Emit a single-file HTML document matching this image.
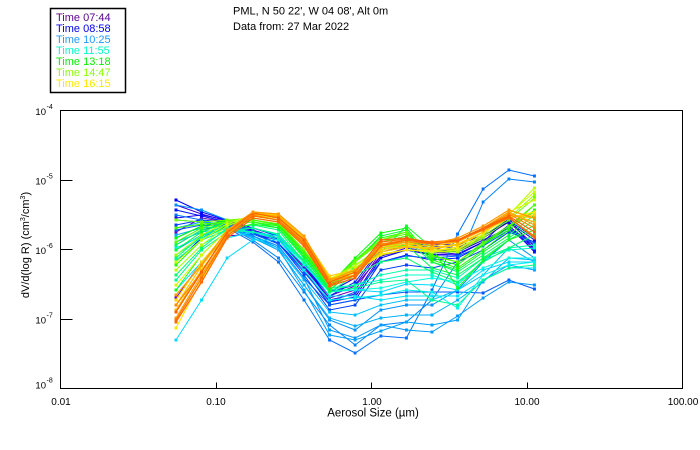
<!DOCTYPE html>
<html><head><meta charset="utf-8"><style>
html,body{margin:0;padding:0;background:#fff}
svg{display:block}
text{font-family:"Liberation Sans",sans-serif}
</style></head><body>
<svg width="700" height="450" viewBox="0 0 700 450" xmlns="http://www.w3.org/2000/svg">
<rect width="700" height="450" fill="#fff"/>
<defs>
<marker id="m1" markerWidth="3" markerHeight="3" refX="1.5" refY="1.5" markerUnits="userSpaceOnUse"><rect width="3" height="3" fill="#7000b8"/></marker>
<marker id="m2" markerWidth="3" markerHeight="3" refX="1.5" refY="1.5" markerUnits="userSpaceOnUse"><rect width="3" height="3" fill="#5000d0"/></marker>
<marker id="m3" markerWidth="3" markerHeight="3" refX="1.5" refY="1.5" markerUnits="userSpaceOnUse"><rect width="3" height="3" fill="#2000f0"/></marker>
<marker id="m4" markerWidth="3" markerHeight="3" refX="1.5" refY="1.5" markerUnits="userSpaceOnUse"><rect width="3" height="3" fill="#0000ff"/></marker>
<marker id="m5" markerWidth="3" markerHeight="3" refX="1.5" refY="1.5" markerUnits="userSpaceOnUse"><rect width="3" height="3" fill="#0010ff"/></marker>
<marker id="m6" markerWidth="3" markerHeight="3" refX="1.5" refY="1.5" markerUnits="userSpaceOnUse"><rect width="3" height="3" fill="#0028ff"/></marker>
<marker id="m7" markerWidth="3" markerHeight="3" refX="1.5" refY="1.5" markerUnits="userSpaceOnUse"><rect width="3" height="3" fill="#0040ff"/></marker>
<marker id="m8" markerWidth="3" markerHeight="3" refX="1.5" refY="1.5" markerUnits="userSpaceOnUse"><rect width="3" height="3" fill="#0000e0"/></marker>
<marker id="m9" markerWidth="3" markerHeight="3" refX="1.5" refY="1.5" markerUnits="userSpaceOnUse"><rect width="3" height="3" fill="#0058ff"/></marker>
<marker id="m10" markerWidth="3" markerHeight="3" refX="1.5" refY="1.5" markerUnits="userSpaceOnUse"><rect width="3" height="3" fill="#0070ff"/></marker>
<marker id="m11" markerWidth="3" markerHeight="3" refX="1.5" refY="1.5" markerUnits="userSpaceOnUse"><rect width="3" height="3" fill="#0080ff"/></marker>
<marker id="m12" markerWidth="3" markerHeight="3" refX="1.5" refY="1.5" markerUnits="userSpaceOnUse"><rect width="3" height="3" fill="#0090ff"/></marker>
<marker id="m13" markerWidth="3" markerHeight="3" refX="1.5" refY="1.5" markerUnits="userSpaceOnUse"><rect width="3" height="3" fill="#00a0ff"/></marker>
<marker id="m14" markerWidth="3" markerHeight="3" refX="1.5" refY="1.5" markerUnits="userSpaceOnUse"><rect width="3" height="3" fill="#00b0ff"/></marker>
<marker id="m15" markerWidth="3" markerHeight="3" refX="1.5" refY="1.5" markerUnits="userSpaceOnUse"><rect width="3" height="3" fill="#00c0ff"/></marker>
<marker id="m16" markerWidth="3" markerHeight="3" refX="1.5" refY="1.5" markerUnits="userSpaceOnUse"><rect width="3" height="3" fill="#0098ff"/></marker>
<marker id="m17" markerWidth="3" markerHeight="3" refX="1.5" refY="1.5" markerUnits="userSpaceOnUse"><rect width="3" height="3" fill="#00d8ff"/></marker>
<marker id="m18" markerWidth="3" markerHeight="3" refX="1.5" refY="1.5" markerUnits="userSpaceOnUse"><rect width="3" height="3" fill="#00f0f0"/></marker>
<marker id="m19" markerWidth="3" markerHeight="3" refX="1.5" refY="1.5" markerUnits="userSpaceOnUse"><rect width="3" height="3" fill="#00ffe0"/></marker>
<marker id="m20" markerWidth="3" markerHeight="3" refX="1.5" refY="1.5" markerUnits="userSpaceOnUse"><rect width="3" height="3" fill="#00ffc8"/></marker>
<marker id="m21" markerWidth="3" markerHeight="3" refX="1.5" refY="1.5" markerUnits="userSpaceOnUse"><rect width="3" height="3" fill="#00ffa8"/></marker>
<marker id="m22" markerWidth="3" markerHeight="3" refX="1.5" refY="1.5" markerUnits="userSpaceOnUse"><rect width="3" height="3" fill="#00ff90"/></marker>
<marker id="m23" markerWidth="3" markerHeight="3" refX="1.5" refY="1.5" markerUnits="userSpaceOnUse"><rect width="3" height="3" fill="#00ff70"/></marker>
<marker id="m24" markerWidth="3" markerHeight="3" refX="1.5" refY="1.5" markerUnits="userSpaceOnUse"><rect width="3" height="3" fill="#00ff50"/></marker>
<marker id="m25" markerWidth="3" markerHeight="3" refX="1.5" refY="1.5" markerUnits="userSpaceOnUse"><rect width="3" height="3" fill="#00ff30"/></marker>
<marker id="m26" markerWidth="3" markerHeight="3" refX="1.5" refY="1.5" markerUnits="userSpaceOnUse"><rect width="3" height="3" fill="#00ff00"/></marker>
<marker id="m27" markerWidth="3" markerHeight="3" refX="1.5" refY="1.5" markerUnits="userSpaceOnUse"><rect width="3" height="3" fill="#20ff00"/></marker>
<marker id="m28" markerWidth="3" markerHeight="3" refX="1.5" refY="1.5" markerUnits="userSpaceOnUse"><rect width="3" height="3" fill="#40ff00"/></marker>
<marker id="m29" markerWidth="3" markerHeight="3" refX="1.5" refY="1.5" markerUnits="userSpaceOnUse"><rect width="3" height="3" fill="#10ff20"/></marker>
<marker id="m30" markerWidth="3" markerHeight="3" refX="1.5" refY="1.5" markerUnits="userSpaceOnUse"><rect width="3" height="3" fill="#70ff00"/></marker>
<marker id="m31" markerWidth="3" markerHeight="3" refX="1.5" refY="1.5" markerUnits="userSpaceOnUse"><rect width="3" height="3" fill="#98ff00"/></marker>
<marker id="m32" markerWidth="3" markerHeight="3" refX="1.5" refY="1.5" markerUnits="userSpaceOnUse"><rect width="3" height="3" fill="#b8ff00"/></marker>
<marker id="m33" markerWidth="3" markerHeight="3" refX="1.5" refY="1.5" markerUnits="userSpaceOnUse"><rect width="3" height="3" fill="#d8f800"/></marker>
<marker id="m34" markerWidth="3" markerHeight="3" refX="1.5" refY="1.5" markerUnits="userSpaceOnUse"><rect width="3" height="3" fill="#ffe800"/></marker>
<marker id="m35" markerWidth="3" markerHeight="3" refX="1.5" refY="1.5" markerUnits="userSpaceOnUse"><rect width="3" height="3" fill="#ffd000"/></marker>
<marker id="m36" markerWidth="3" markerHeight="3" refX="1.5" refY="1.5" markerUnits="userSpaceOnUse"><rect width="3" height="3" fill="#ffb800"/></marker>
<marker id="m37" markerWidth="3" markerHeight="3" refX="1.5" refY="1.5" markerUnits="userSpaceOnUse"><rect width="3" height="3" fill="#ffa000"/></marker>
<marker id="m38" markerWidth="3" markerHeight="3" refX="1.5" refY="1.5" markerUnits="userSpaceOnUse"><rect width="3" height="3" fill="#ff8800"/></marker>
<marker id="m39" markerWidth="3" markerHeight="3" refX="1.5" refY="1.5" markerUnits="userSpaceOnUse"><rect width="3" height="3" fill="#ff7000"/></marker>
<marker id="m40" markerWidth="3" markerHeight="3" refX="1.5" refY="1.5" markerUnits="userSpaceOnUse"><rect width="3" height="3" fill="#ff6000"/></marker>
<marker id="m41" markerWidth="3" markerHeight="3" refX="1.5" refY="1.5" markerUnits="userSpaceOnUse"><rect width="3" height="3" fill="#ff9800"/></marker>
<marker id="m42" markerWidth="3" markerHeight="3" refX="1.5" refY="1.5" markerUnits="userSpaceOnUse"><rect width="3" height="3" fill="#ff6800"/></marker>
<marker id="ma" markerWidth="3" markerHeight="3" refX="1.5" refY="1.5" markerUnits="userSpaceOnUse"><rect width="3" height="3" fill="#3a00e0"/></marker>
<marker id="mb" markerWidth="3" markerHeight="3" refX="1.5" refY="1.5" markerUnits="userSpaceOnUse"><rect width="3" height="3" fill="#0060ff"/></marker>
<marker id="mc" markerWidth="3" markerHeight="3" refX="1.5" refY="1.5" markerUnits="userSpaceOnUse"><rect width="3" height="3" fill="#00e0ff"/></marker>
<marker id="md" markerWidth="3" markerHeight="3" refX="1.5" refY="1.5" markerUnits="userSpaceOnUse"><rect width="3" height="3" fill="#00ff60"/></marker>
<marker id="me" markerWidth="3" markerHeight="3" refX="1.5" refY="1.5" markerUnits="userSpaceOnUse"><rect width="3" height="3" fill="#50ff00"/></marker>
<marker id="mf" markerWidth="3" markerHeight="3" refX="1.5" refY="1.5" markerUnits="userSpaceOnUse"><rect width="3" height="3" fill="#c8ff00"/></marker>
<marker id="mg" markerWidth="3" markerHeight="3" refX="1.5" refY="1.5" markerUnits="userSpaceOnUse"><rect width="3" height="3" fill="#ffc000"/></marker>
</defs>

<!-- Legend -->
<rect x="50.5" y="8.5" width="75" height="84" fill="none" stroke="#000" stroke-width="1.5"/>
<g font-size="11">
<text x="56" y="21" fill="#5a0090">Time 07:44</text>
<text x="56" y="32" fill="#0000ee">Time 08:58</text>
<text x="56" y="43" fill="#1e9bff">Time 10:25</text>
<text x="56" y="54" fill="#00ffc8">Time 11:55</text>
<text x="56" y="65" fill="#00f000">Time 13:18</text>
<text x="56" y="76" fill="#8cff00">Time 14:47</text>
<text x="56" y="87" fill="#ffe800">Time 16:15</text>
</g>

<!-- Title -->
<g font-size="11" fill="#000">
<text x="233" y="14.5">PML, N 50 22', W 04 08', Alt 0m</text>
<text x="233" y="30">Data from: 27 Mar 2022</text>
</g>

<!-- Data -->
<g fill="none" stroke-width="1">
<polyline stroke="#7000b8" marker-start="url(#m1)" marker-mid="url(#m1)" marker-end="url(#m1)" points="176,232 201.6,218 227.2,222 252.8,232 278.4,240 304,268 329.6,298 355.2,290 380.8,252 406.4,246 432,250 457.6,250 483.2,238 508.8,222 534.4,245"/>
<polyline stroke="#5000d0" marker-start="url(#m2)" marker-mid="url(#m2)" marker-end="url(#m2)" points="176,298 201.6,262 227.2,236 252.8,234 278.4,240 304,266 329.6,296 355.2,286 380.8,256 406.4,250 432,254 457.6,255 483.2,242 508.8,228 534.4,250"/>
<polyline stroke="#3a00e0" marker-start="url(#ma)" marker-mid="url(#ma)" marker-end="url(#ma)" points="176,205 201.6,214 227.2,221 252.8,231 278.4,239 304,266 329.6,300 355.2,294 380.8,256 406.4,248 432,252 457.6,254 483.2,242 508.8,226 534.4,246"/>
<polyline stroke="#2000f0" marker-start="url(#m3)" marker-mid="url(#m3)" marker-end="url(#m3)" points="176,218 201.6,215 227.2,220 252.8,230 278.4,238 304,262 329.6,292 355.2,285 380.8,250 406.4,244 432,248 457.6,252 483.2,240 508.8,228 534.4,248"/>
<polyline stroke="#0000ff" marker-start="url(#m4)" marker-mid="url(#m4)" marker-end="url(#m4)" points="176,200 201.6,212 227.2,220 252.8,228 278.4,236 304,262 329.6,302 355.2,297 380.8,258 406.4,250 432,255 457.6,255 483.2,242 508.8,218 534.4,250"/>
<polyline stroke="#0010ff" marker-start="url(#m5)" marker-mid="url(#m5)" marker-end="url(#m5)" points="176,210 201.6,216 227.2,222 252.8,233 278.4,243 304,270 329.6,305 355.2,300 380.8,262 406.4,255 432,260 457.6,258 483.2,245 508.8,225 534.4,252"/>
<polyline stroke="#0028ff" marker-start="url(#m6)" marker-mid="url(#m6)" marker-end="url(#m6)" points="176,245 201.6,230 227.2,224 252.8,232 278.4,240 304,265 329.6,296 355.2,282 380.8,248 406.4,242 432,246 457.6,248 483.2,236 508.8,220 534.4,238"/>
<polyline stroke="#0040ff" marker-start="url(#m7)" marker-mid="url(#m7)" marker-end="url(#m7)" points="176,225 201.6,220 227.2,222 252.8,233 278.4,243 304,275 329.6,310 355.2,305 380.8,270 406.4,265 432,268 457.6,262 483.2,250 508.8,232 534.4,242"/>
<polyline stroke="#0000e0" marker-start="url(#m8)" marker-mid="url(#m8)" marker-end="url(#m8)" points="176,262 201.6,238 227.2,226 252.8,228 278.4,236 304,262 329.6,292 355.2,278 380.8,245 406.4,240 432,244 457.6,245 483.2,235 508.8,222 534.4,240"/>
<polyline stroke="#0060ff" marker-start="url(#mb)" marker-mid="url(#mb)" marker-end="url(#mb)" points="176,238 201.6,226 227.2,224 252.8,234 278.4,244 304,272 329.6,302 355.2,292 380.8,262 406.4,256 432,258 457.6,256 483.2,246 508.8,230 534.4,244"/>
<polyline stroke="#0058ff" marker-start="url(#m9)" marker-mid="url(#m9)" marker-end="url(#m9)" points="176,230 201.6,225 227.2,225 252.8,236 278.4,246 304,278 329.6,305 355.2,300 380.8,295 406.4,292 432,292 457.6,292 483.2,293 508.8,280 534.4,289"/>
<polyline stroke="#0070ff" marker-start="url(#m10)" marker-mid="url(#m10)" marker-end="url(#m10)" points="176,215 201.6,220 227.2,228 252.8,242 278.4,262 304,300 329.6,340 355.2,353 380.8,336 406.4,338 432,290 457.6,234 483.2,189 508.8,170 534.4,176"/>
<polyline stroke="#0080ff" marker-start="url(#m11)" marker-mid="url(#m11)" marker-end="url(#m11)" points="176,220 201.6,222 227.2,226 252.8,240 278.4,258 304,292 329.6,325 355.2,345 380.8,325 406.4,322 432,300 457.6,262 483.2,202 508.8,179 534.4,182"/>
<polyline stroke="#0090ff" marker-start="url(#m12)" marker-mid="url(#m12)" marker-end="url(#m12)" points="176,205 201.6,210 227.2,220 252.8,238 278.4,250 304,285 329.6,320 355.2,330 380.8,310 406.4,305 432,305 457.6,290 483.2,262 508.8,240 534.4,258"/>
<polyline stroke="#00a0ff" marker-start="url(#m13)" marker-mid="url(#m13)" marker-end="url(#m13)" points="176,228 201.6,222 227.2,224 252.8,236 278.4,248 304,290 329.6,335 355.2,340 380.8,331 406.4,322 432,325 457.6,320 483.2,280 508.8,265 534.4,270"/>
<polyline stroke="#00b0ff" marker-start="url(#m14)" marker-mid="url(#m14)" marker-end="url(#m14)" points="176,235 201.6,228 227.2,226 252.8,238 278.4,250 304,285 329.6,318 355.2,326 380.8,318 406.4,315 432,315 457.6,300 483.2,282 508.8,258 534.4,260"/>
<polyline stroke="#00c0ff" marker-start="url(#m15)" marker-mid="url(#m15)" marker-end="url(#m15)" points="176,242 201.6,232 227.2,228 252.8,238 278.4,248 304,280 329.6,312 355.2,315 380.8,305 406.4,300 432,300 457.6,290 483.2,275 508.8,248 534.4,262"/>
<polyline stroke="#0098ff" marker-start="url(#m16)" marker-mid="url(#m16)" marker-end="url(#m16)" points="176,250 201.6,235 227.2,228 252.8,236 278.4,246 304,278 329.6,330 355.2,338 380.8,325 406.4,330 432,332 457.6,316 483.2,298 508.8,282 534.4,285"/>
<polyline stroke="#00d8ff" marker-start="url(#m17)" marker-mid="url(#m17)" marker-end="url(#m17)" points="176,340 201.6,300 227.2,258 252.8,240 278.4,240 304,265 329.6,290 355.2,290 380.8,292 406.4,284 432,285 457.6,290 483.2,270 508.8,262 534.4,262"/>
<polyline stroke="#00e0ff" marker-start="url(#mc)" marker-mid="url(#mc)" marker-end="url(#mc)" points="176,290 201.6,262 227.2,238 252.8,232 278.4,236 304,262 329.6,296 355.2,296 380.8,300 406.4,296 432,296 457.6,296 483.2,280 508.8,268 534.4,268"/>
<polyline stroke="#00f0f0" marker-start="url(#m18)" marker-mid="url(#m18)" marker-end="url(#m18)" points="176,248 201.6,236 227.2,228 252.8,232 278.4,240 304,270 329.6,300 355.2,298 380.8,295 406.4,290 432,292 457.6,308 483.2,275 508.8,265 534.4,262"/>
<polyline stroke="#00ffe0" marker-start="url(#m19)" marker-mid="url(#m19)" marker-end="url(#m19)" points="176,270 201.6,245 227.2,230 252.8,232 278.4,238 304,265 329.6,292 355.2,290 380.8,288 406.4,282 432,278 457.6,282 483.2,268 508.8,258 534.4,258"/>
<polyline stroke="#00ffc8" marker-start="url(#m20)" marker-mid="url(#m20)" marker-end="url(#m20)" points="176,255 201.6,238 227.2,228 252.8,228 278.4,235 304,260 329.6,288 355.2,285 380.8,280 406.4,275 432,275 457.6,285 483.2,260 508.8,250 534.4,248"/>
<polyline stroke="#00ffa8" marker-start="url(#m21)" marker-mid="url(#m21)" marker-end="url(#m21)" points="176,260 201.6,240 227.2,230 252.8,232 278.4,238 304,262 329.6,290 355.2,285 380.8,275 406.4,270 432,270 457.6,278 483.2,258 508.8,248 534.4,245"/>
<polyline stroke="#00ff90" marker-start="url(#m22)" marker-mid="url(#m22)" marker-end="url(#m22)" points="176,280 201.6,250 227.2,232 252.8,228 278.4,234 304,262 329.6,292 355.2,288 380.8,282 406.4,280 432,300 457.6,305 483.2,280 508.8,268 534.4,265"/>
<polyline stroke="#00ff70" marker-start="url(#m23)" marker-mid="url(#m23)" marker-end="url(#m23)" points="176,275 201.6,248 227.2,228 252.8,225 278.4,230 304,262 329.6,292 355.2,275 380.8,262 406.4,258 432,272 457.6,282 483.2,262 508.8,248 534.4,235"/>
<polyline stroke="#00ff60" marker-start="url(#md)" marker-mid="url(#md)" marker-end="url(#md)" points="176,258 201.6,236 227.2,224 252.8,222 278.4,228 304,256 329.6,288 355.2,266 380.8,246 406.4,240 432,262 457.6,272 483.2,255 508.8,238 534.4,220"/>
<polyline stroke="#00ff50" marker-start="url(#m24)" marker-mid="url(#m24)" marker-end="url(#m24)" points="176,245 201.6,230 227.2,222 252.8,222 278.4,228 304,258 329.6,290 355.2,268 380.8,250 406.4,245 432,268 457.6,275 483.2,258 508.8,240 534.4,225"/>
<polyline stroke="#00ff30" marker-start="url(#m25)" marker-mid="url(#m25)" marker-end="url(#m25)" points="176,250 201.6,232 227.2,222 252.8,222 278.4,226 304,255 329.6,288 355.2,262 380.8,236 406.4,230 432,262 457.6,270 483.2,252 508.8,235 534.4,215"/>
<polyline stroke="#00ff00" marker-start="url(#m26)" marker-mid="url(#m26)" marker-end="url(#m26)" points="176,238 201.6,226 227.2,220 252.8,220 278.4,225 304,252 329.6,285 355.2,258 380.8,233 406.4,228 432,258 457.6,265 483.2,245 508.8,228 534.4,205"/>
<polyline stroke="#20ff00" marker-start="url(#m27)" marker-mid="url(#m27)" marker-end="url(#m27)" points="176,265 201.6,240 227.2,225 252.8,220 278.4,224 304,250 329.6,285 355.2,260 380.8,238 406.4,232 432,260 457.6,268 483.2,250 508.8,230 534.4,210"/>
<polyline stroke="#40ff00" marker-start="url(#m28)" marker-mid="url(#m28)" marker-end="url(#m28)" points="176,228 201.6,224 227.2,222 252.8,222 278.4,226 304,254 329.6,286 355.2,262 380.8,242 406.4,236 432,255 457.6,262 483.2,242 508.8,226 534.4,212"/>
<polyline stroke="#50ff00" marker-start="url(#me)" marker-mid="url(#me)" marker-end="url(#me)" points="176,242 201.6,228 227.2,221 252.8,220 278.4,224 304,250 329.6,284 355.2,260 380.8,240 406.4,234 432,256 457.6,262 483.2,244 508.8,226 534.4,205"/>
<polyline stroke="#10ff20" marker-start="url(#m29)" marker-mid="url(#m29)" marker-end="url(#m29)" points="176,290 201.6,255 227.2,230 252.8,224 278.4,228 304,258 329.6,290 355.2,270 380.8,252 406.4,226 432,248 457.6,288 483.2,260 508.8,240 534.4,230"/>
<polyline stroke="#70ff00" marker-start="url(#m30)" marker-mid="url(#m30)" marker-end="url(#m30)" points="176,220 201.6,222 227.2,220 252.8,218 278.4,222 304,250 329.6,282 355.2,262 380.8,240 406.4,232 432,250 457.6,252 483.2,238 508.8,220 534.4,198"/>
<polyline stroke="#98ff00" marker-start="url(#m31)" marker-mid="url(#m31)" marker-end="url(#m31)" points="176,255 201.6,235 227.2,222 252.8,216 278.4,220 304,246 329.6,280 355.2,265 380.8,248 406.4,240 432,252 457.6,252 483.2,236 508.8,218 534.4,195"/>
<polyline stroke="#b8ff00" marker-start="url(#m32)" marker-mid="url(#m32)" marker-end="url(#m32)" points="176,270 201.6,245 227.2,226 252.8,216 278.4,220 304,244 329.6,280 355.2,268 380.8,250 406.4,244 432,252 457.6,250 483.2,234 508.8,215 534.4,188"/>
<polyline stroke="#c8ff00" marker-start="url(#mf)" marker-mid="url(#mf)" marker-end="url(#mf)" points="176,262 201.6,240 227.2,224 252.8,215 278.4,218 304,242 329.6,279 355.2,266 380.8,248 406.4,242 432,250 457.6,249 483.2,234 508.8,214 534.4,192"/>
<polyline stroke="#d8f800" marker-start="url(#m33)" marker-mid="url(#m33)" marker-end="url(#m33)" points="176,285 201.6,255 227.2,230 252.8,215 278.4,218 304,240 329.6,278 355.2,272 380.8,255 406.4,250 432,252 457.6,250 483.2,235 508.8,212 534.4,200"/>
</g>
<g fill="none" stroke-width="1.2">
<polyline stroke="#ffe800" marker-start="url(#m34)" marker-mid="url(#m34)" marker-end="url(#m34)" points="176,328 201.6,280 227.2,236 252.8,212 278.4,214 304,238 329.6,278 355.2,272 380.8,254 406.4,250 432,251 457.6,247 483.2,232 508.8,218 534.4,212"/>
<polyline stroke="#ffd000" marker-start="url(#m35)" marker-mid="url(#m35)" marker-end="url(#m35)" points="176,300 201.6,262 227.2,232 252.8,213 278.4,215 304,238 329.6,276 355.2,270 380.8,250 406.4,246 432,248 457.6,244 483.2,232 508.8,216 534.4,215"/>
<polyline stroke="#ffc000" marker-start="url(#mg)" marker-mid="url(#mg)" marker-end="url(#mg)" points="176,305 201.6,266 227.2,233 252.8,214 278.4,216 304,238 329.6,279 355.2,273 380.8,252 406.4,247 432,249 457.6,245 483.2,232 508.8,215 534.4,218"/>
<polyline stroke="#ffb800" marker-start="url(#m36)" marker-mid="url(#m36)" marker-end="url(#m36)" points="176,310 201.6,270 227.2,235 252.8,214 278.4,216 304,240 329.6,280 355.2,275 380.8,248 406.4,244 432,246 457.6,242 483.2,230 508.8,214 534.4,222"/>
<polyline stroke="#ffa000" marker-start="url(#m37)" marker-mid="url(#m37)" marker-end="url(#m37)" points="176,318 201.6,275 227.2,236 252.8,213 278.4,217 304,240 329.6,282 355.2,275 380.8,246 406.4,242 432,244 457.6,240 483.2,228 508.8,212 534.4,225"/>
<polyline stroke="#ff8800" marker-start="url(#m38)" marker-mid="url(#m38)" marker-end="url(#m38)" points="176,305 201.6,272 227.2,233 252.8,215 278.4,220 304,242 329.6,284 355.2,276 380.8,244 406.4,240 432,243 457.6,240 483.2,228 508.8,214 534.4,228"/>
<polyline stroke="#ff7000" marker-start="url(#m39)" marker-mid="url(#m39)" marker-end="url(#m39)" points="176,320 201.6,278 227.2,236 252.8,216 278.4,220 304,244 329.6,285 355.2,275 380.8,242 406.4,239 432,242 457.6,240 483.2,230 508.8,218 534.4,236"/>
<polyline stroke="#ff6000" marker-start="url(#m40)" marker-mid="url(#m40)" marker-end="url(#m40)" points="176,312 201.6,272 227.2,232 252.8,213 278.4,218 304,240 329.6,282 355.2,272 380.8,240 406.4,238 432,243 457.6,240 483.2,228 508.8,216 534.4,232"/>
<polyline stroke="#ff9800" marker-start="url(#m41)" marker-mid="url(#m41)" marker-end="url(#m41)" points="176,295 201.6,265 227.2,230 252.8,212 278.4,214 304,236 329.6,280 355.2,270 380.8,245 406.4,242 432,244 457.6,238 483.2,226 508.8,210 534.4,218"/>
<polyline stroke="#ff6800" marker-start="url(#m42)" marker-mid="url(#m42)" marker-end="url(#m42)" points="176,322 201.6,282 227.2,238 252.8,218 278.4,222 304,246 329.6,286 355.2,278 380.8,246 406.4,240 432,244 457.6,241 483.2,229 508.8,217 534.4,238"/>
</g>

<!-- Axes frame -->
<rect x="60.5" y="110.5" width="622" height="278" fill="none" stroke="#000" stroke-width="1"/>
<g stroke="#000" stroke-width="1">
<line x1="60.5" y1="180.5" x2="72.5" y2="180.5"/>
<line x1="60.5" y1="249.5" x2="72.5" y2="249.5"/>
<line x1="60.5" y1="319.5" x2="72.5" y2="319.5"/>
<line x1="216.5" y1="382.5" x2="216.5" y2="388.5"/>
<line x1="371.5" y1="382.5" x2="371.5" y2="388.5"/>
<line x1="527.5" y1="382.5" x2="527.5" y2="388.5"/>
</g>

<!-- Y tick labels -->
<g fill="#000">
<text x="46" y="115" font-size="9.5" text-anchor="end">10</text><text x="46.5" y="109" font-size="7">-4</text>
<text x="46" y="184.5" font-size="9.5" text-anchor="end">10</text><text x="46.5" y="178.5" font-size="7">-5</text>
<text x="46" y="254" font-size="9.5" text-anchor="end">10</text><text x="46.5" y="248" font-size="7">-6</text>
<text x="46" y="323.5" font-size="9.5" text-anchor="end">10</text><text x="46.5" y="317.5" font-size="7">-7</text>
<text x="46" y="388.5" font-size="9.5" text-anchor="end">10</text><text x="46.5" y="382.5" font-size="7">-8</text>
</g>

<!-- X tick labels -->
<g fill="#000" font-size="10" text-anchor="middle">
<text x="61" y="405">0.01</text>
<text x="216" y="405">0.10</text>
<text x="372" y="405">1.00</text>
<text x="527" y="405">10.00</text>
<text x="683" y="405">100.00</text>
</g>

<!-- Axis titles -->
<text x="373" y="416.5" font-size="11.5" text-anchor="middle" fill="#000">Aerosol Size (µm)</text>
<text transform="translate(29,245) rotate(-90)" font-size="11" text-anchor="middle" fill="#000">dV/d(log  R)  (cm<tspan font-size="7" dy="-4">3</tspan><tspan dy="4">/cm</tspan><tspan font-size="7" dy="-4">3</tspan><tspan dy="4">)</tspan></text>
</svg>
</body></html>
